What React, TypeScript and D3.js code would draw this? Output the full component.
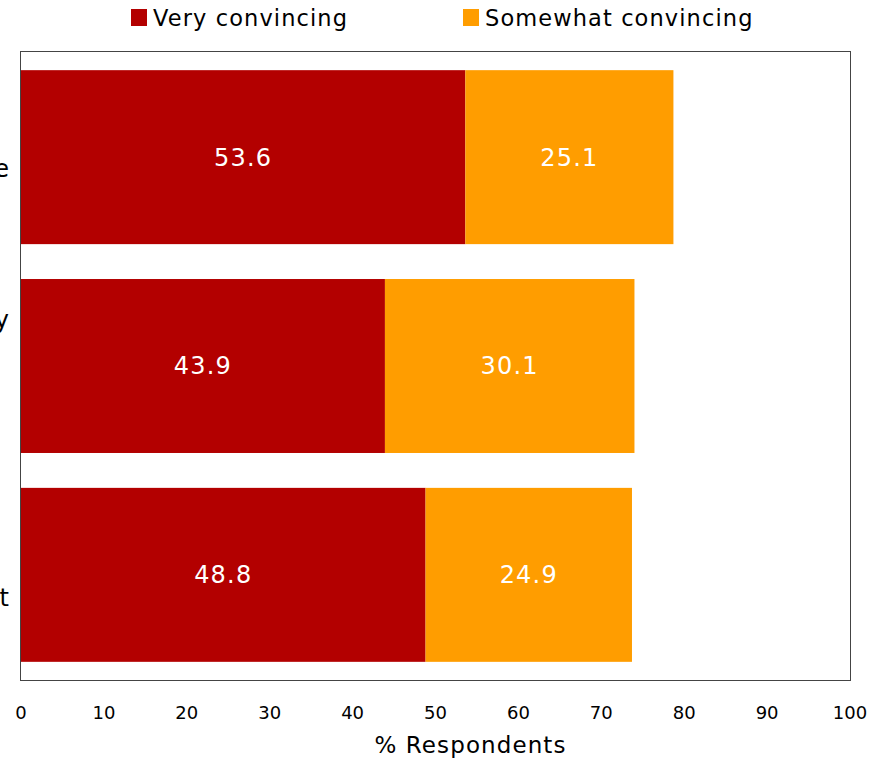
import React from "react";
import * as d3 from "d3";

const categories = ["Trade", "Policy", "Impact"];
const veryConvincing = [53.6, 43.9, 48.8];
const somewhatConvincing = [25.1, 30.1, 24.9];
const seriesNames = ["Very convincing", "Somewhat convincing"];
const seriesColors = ["#b30000", "#ff9d00"];
const xTicks = [0, 10, 20, 30, 40, 50, 60, 70, 80, 90, 100];
const labelOffsets = [20, -38, 31];

const W = 888;
const H = 759;
const left = 21;
const right = 850;
const top = 52;
const bottom = 680;
const font = "'DejaVu Sans', sans-serif";

export default function App() {
  const x = d3.scaleLinear().domain([0, 100]).range([left, right]);
  const y = d3
    .scaleBand<string>()
    .domain(categories)
    .range([top, bottom])
    .paddingInner(0.167)
    .paddingOuter(0.087);

  return (
    <div style={{ position: "absolute", left: 0, top: 0 }}>
      <svg width={W} height={H} style={{ display: "block", fontFamily: font }}>
        <rect x={0} y={0} width={W} height={H} fill="#fff" />
        {/* legend */}
        {seriesNames.map((s, i) => {
          const lx = i === 0 ? 131 : 463;
          return (
            <g key={s}>
              <rect x={lx} y={9} width={16} height={17} fill={seriesColors[i]} />
              <text x={lx + 22} y={26} fontSize={22.5} letterSpacing={1.1} fill="#000">
                {s}
              </text>
            </g>
          );
        })}
        {/* bars */}
        {categories.map((c, i) => {
          const y0 = y(c)!;
          const bh = y.bandwidth();
          const v1 = veryConvincing[i];
          const v2 = somewhatConvincing[i];
          return (
            <g key={c}>
              <rect x={x(0)} y={y0} width={x(v1) - x(0)} height={bh} fill={seriesColors[0]} />
              <rect x={x(v1)} y={y0} width={x(v1 + v2) - x(v1)} height={bh} fill={seriesColors[1]} />
              <text
                x={(x(0) + x(v1)) / 2}
                y={y0 + bh / 2}
                dy="0.35em"
                textAnchor="middle"
                fontSize={24}
                letterSpacing={1.2}
                fill="#fff"
              >
                {v1.toFixed(1)}
              </text>
              <text
                x={(x(v1) + x(v1 + v2)) / 2}
                y={y0 + bh / 2}
                dy="0.35em"
                textAnchor="middle"
                fontSize={24}
                letterSpacing={1.2}
                fill="#fff"
              >
                {v2.toFixed(1)}
              </text>
              <text
                x={9}
                y={y0 + bh / 2 + labelOffsets[i]}
                textAnchor="end"
                fontSize={24}
                fill="#000"
              >
                {c}
              </text>
            </g>
          );
        })}
        {/* frame */}
        <rect
          x={left - 0.5}
          y={top - 0.5}
          width={right - left + 1}
          height={bottom - top + 1}
          fill="none"
          stroke="#444"
          strokeWidth={1}
        />
        {/* x ticks */}
        {xTicks.map((t) => (
          <text key={t} x={x(t)} y={719} textAnchor="middle" fontSize={18} fill="#000">
            {t}
          </text>
        ))}
        <text
          x={(left + right) / 2 + 35}
          y={753}
          textAnchor="middle"
          fontSize={23}
          letterSpacing={1.1}
          fill="#000"
        >
          % Respondents
        </text>
      </svg>
    </div>
  );
}
